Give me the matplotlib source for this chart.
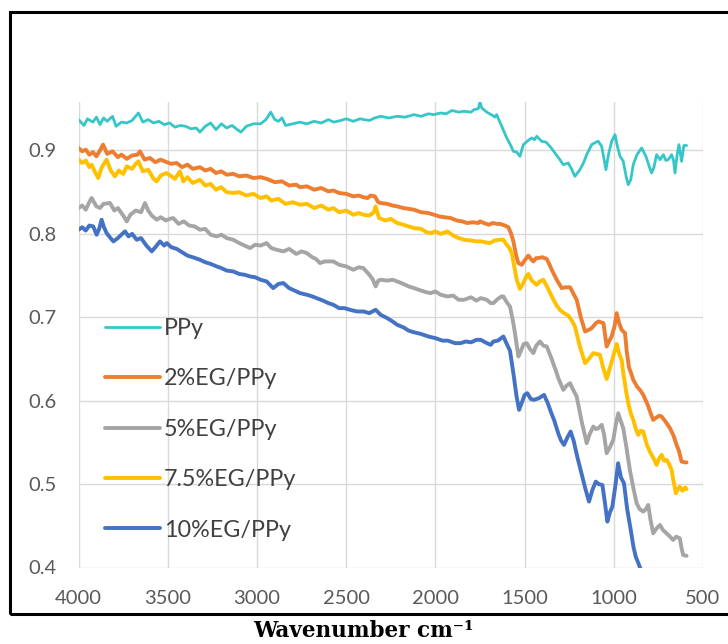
import matplotlib
matplotlib.use("Agg")
import matplotlib.pyplot as plt
from matplotlib.patches import Rectangle

# ---------------- data ----------------
wn_ppy = [4000, 3970, 3950, 3920, 3900, 3880, 3860, 3840, 3810, 3790, 3760, 3730, 3700, 3665, 3640,
          3610, 3580, 3550, 3520, 3490, 3460, 3430, 3400, 3370, 3340, 3320, 3290, 3260, 3230, 3200,
          3170, 3140, 3110, 3090, 3060, 3020, 2980, 2950, 2923, 2900, 2880, 2860, 2840, 2800, 2760,
          2720, 2680, 2640, 2600, 2570, 2530, 2500, 2460, 2423, 2400, 2370, 2340, 2307, 2260, 2215,
          2170, 2120, 2080, 2040, 2010, 1970, 1940, 1907, 1870, 1840, 1800, 1784, 1760, 1750, 1740,
          1712, 1680, 1666, 1657, 1628, 1600, 1580, 1563, 1544, 1526, 1507, 1480, 1460, 1445, 1432,
          1404, 1380, 1358, 1330, 1302, 1283, 1255, 1235, 1218, 1190, 1170, 1152, 1124, 1100, 1087,
          1068, 1044, 1030, 1012, 993, 980, 965, 947, 930, 919, 905, 891, 870, 844, 820,
          800, 788, 775, 760, 741, 722, 708, 695, 676, 665, 657, 645, 635, 620, 607, 592]
ppy = [0.937, 0.930, 0.938, 0.934, 0.940, 0.931, 0.939, 0.935, 0.941, 0.929, 0.934, 0.933, 0.936, 0.945, 0.934,
       0.937, 0.933, 0.935, 0.931, 0.933, 0.928, 0.930, 0.929, 0.926, 0.927, 0.922, 0.929, 0.933, 0.925, 0.932,
       0.927, 0.930, 0.925, 0.922, 0.929, 0.932, 0.932, 0.937, 0.946, 0.937, 0.935, 0.939, 0.930, 0.932, 0.934,
       0.932, 0.935, 0.933, 0.937, 0.934, 0.936, 0.938, 0.935, 0.938, 0.937, 0.936, 0.939, 0.941, 0.939, 0.941,
       0.940, 0.943, 0.941, 0.944, 0.943, 0.945, 0.944, 0.948, 0.946, 0.947, 0.946, 0.949, 0.950, 0.958, 0.951,
       0.946, 0.942, 0.940, 0.943, 0.929, 0.915, 0.907, 0.899, 0.898, 0.893, 0.907, 0.912, 0.915, 0.913, 0.917,
       0.911, 0.910, 0.905, 0.897, 0.889, 0.883, 0.885, 0.877, 0.869, 0.877, 0.885, 0.895, 0.907, 0.910, 0.911,
       0.905, 0.877, 0.895, 0.911, 0.919, 0.905, 0.893, 0.887, 0.868, 0.859, 0.865, 0.883, 0.895, 0.903, 0.893,
       0.880, 0.873, 0.880, 0.895, 0.889, 0.895, 0.888, 0.889, 0.895, 0.888, 0.873, 0.895, 0.907, 0.887, 0.906, 0.906]

wn_eg2 = [4000, 3980, 3960, 3940, 3920, 3900, 3880, 3863, 3840, 3810, 3780, 3760, 3730, 3700, 3670,
          3656, 3630, 3600, 3570, 3540, 3506, 3480, 3450, 3420, 3390, 3360, 3320, 3290, 3260, 3230,
          3200, 3170, 3133, 3100, 3060, 3020, 2980, 2946, 2900, 2860, 2820, 2780, 2759, 2720, 2680,
          2640, 2600, 2572, 2540, 2500, 2460, 2430, 2404, 2380, 2363, 2340, 2320, 2307, 2270, 2240,
          2214, 2180, 2150, 2120, 2080, 2040, 2008, 1980, 1950, 1914, 1880, 1850, 1821, 1790, 1760,
          1750, 1728, 1700, 1680, 1653, 1638, 1610, 1591, 1575, 1563, 1545, 1535, 1516, 1500, 1479,
          1465, 1451, 1435, 1423, 1400, 1376, 1360, 1348, 1320, 1292, 1270, 1245, 1225, 1208, 1185,
          1161, 1140, 1124, 1100, 1087, 1058, 1040, 1025, 1012, 995, 984, 970, 956, 937, 928,
          915, 900, 891, 870, 850, 835, 810, 790, 779, 760, 745, 732, 710, 685, 665,
          648, 635, 620, 600, 592]
eg2 = [0.903, 0.899, 0.901, 0.895, 0.898, 0.893, 0.900, 0.907, 0.896, 0.899, 0.892, 0.895, 0.890, 0.894, 0.895,
       0.899, 0.889, 0.891, 0.886, 0.889, 0.886, 0.884, 0.885, 0.880, 0.883, 0.878, 0.880, 0.876, 0.878, 0.873,
       0.875, 0.871, 0.872, 0.869, 0.870, 0.867, 0.868, 0.866, 0.862, 0.863, 0.858, 0.859, 0.856, 0.857, 0.853,
       0.855, 0.851, 0.852, 0.849, 0.848, 0.845, 0.846, 0.844, 0.843, 0.846, 0.845, 0.838, 0.837, 0.836, 0.834,
       0.833, 0.831, 0.830, 0.829, 0.826, 0.825, 0.823, 0.821, 0.820, 0.819, 0.816, 0.815, 0.813, 0.814, 0.813,
       0.815, 0.813, 0.811, 0.813, 0.812, 0.812, 0.810, 0.808, 0.800, 0.791, 0.772, 0.765, 0.763, 0.768, 0.774,
       0.770, 0.767, 0.771, 0.771, 0.772, 0.770, 0.763, 0.757, 0.745, 0.735, 0.736, 0.736, 0.728, 0.721, 0.700,
       0.683, 0.685, 0.687, 0.693, 0.695, 0.693, 0.665, 0.672, 0.677, 0.690, 0.705, 0.693, 0.685, 0.681, 0.660,
       0.640, 0.631, 0.625, 0.617, 0.612, 0.607, 0.595, 0.583, 0.577, 0.580, 0.582, 0.581, 0.575, 0.567, 0.558,
       0.547, 0.540, 0.527, 0.526, 0.526]

wn_eg5 = [4000, 3980, 3960, 3940, 3927, 3900, 3880, 3860, 3824, 3800, 3780, 3750, 3730, 3710, 3680,
          3650, 3628, 3610, 3590, 3562, 3540, 3510, 3490, 3469, 3440, 3410, 3380, 3350, 3320, 3290,
          3260, 3226, 3200, 3170, 3133, 3100, 3070, 3039, 3010, 2980, 2946, 2920, 2890, 2852, 2820,
          2780, 2750, 2721, 2690, 2670, 2647, 2620, 2572, 2540, 2500, 2460, 2430, 2404, 2370, 2350,
          2335, 2320, 2307, 2270, 2240, 2214, 2180, 2150, 2120, 2080, 2050, 2026, 2000, 1970, 1933,
          1900, 1870, 1840, 1800, 1770, 1746, 1712, 1690, 1675, 1650, 1630, 1619, 1600, 1582, 1565,
          1554, 1535, 1520, 1505, 1488, 1470, 1451, 1435, 1414, 1395, 1376, 1350, 1320, 1311, 1283,
          1265, 1245, 1230, 1208, 1180, 1152, 1135, 1115, 1100, 1087, 1068, 1055, 1040, 1020, 1003,
          990, 975, 960, 947, 930, 910, 890, 872, 855, 835, 820, 807, 795, 779, 760,
          741, 725, 704, 685, 667, 650, 630, 620, 611, 592]
eg5 = [0.831, 0.834, 0.829, 0.838, 0.843, 0.833, 0.831, 0.836, 0.837, 0.828, 0.831, 0.822, 0.815, 0.823, 0.828,
       0.826, 0.837, 0.828, 0.822, 0.817, 0.820, 0.816, 0.818, 0.819, 0.812, 0.815, 0.810, 0.809, 0.805, 0.806,
       0.799, 0.797, 0.799, 0.795, 0.793, 0.789, 0.786, 0.783, 0.787, 0.786, 0.789, 0.783, 0.781, 0.779, 0.782,
       0.776, 0.779, 0.777, 0.772, 0.770, 0.765, 0.767, 0.767, 0.763, 0.761, 0.757, 0.760, 0.759, 0.751, 0.745,
       0.737, 0.744, 0.745, 0.744, 0.745, 0.743, 0.740, 0.737, 0.735, 0.732, 0.730, 0.729, 0.731, 0.727, 0.725,
       0.726, 0.721, 0.721, 0.724, 0.720, 0.723, 0.721, 0.717, 0.717, 0.722, 0.725, 0.725, 0.718, 0.713, 0.695,
       0.681, 0.653, 0.660, 0.668, 0.669, 0.662, 0.657, 0.666, 0.671, 0.666, 0.665, 0.651, 0.633, 0.627, 0.613,
       0.618, 0.621, 0.614, 0.605, 0.575, 0.549, 0.560, 0.569, 0.566, 0.567, 0.571, 0.560, 0.537, 0.545, 0.553,
       0.570, 0.585, 0.575, 0.567, 0.545, 0.517, 0.495, 0.477, 0.470, 0.467, 0.470, 0.475, 0.458, 0.441, 0.447,
       0.451, 0.445, 0.441, 0.437, 0.433, 0.437, 0.435, 0.423, 0.415, 0.414]

wn_eg75 = [4000, 3980, 3960, 3940, 3927, 3910, 3890, 3870, 3843, 3820, 3796, 3775, 3750, 3730, 3700,
           3680, 3665, 3640, 3610, 3580, 3562, 3540, 3506, 3480, 3460, 3432, 3413, 3390, 3360, 3320,
           3290, 3260, 3230, 3200, 3170, 3133, 3100, 3060, 3020, 2980, 2946, 2920, 2880, 2840, 2800,
           2759, 2720, 2680, 2640, 2600, 2572, 2540, 2500, 2460, 2430, 2404, 2370, 2345, 2335, 2316,
           2280, 2250, 2214, 2180, 2150, 2120, 2080, 2050, 2026, 2000, 1970, 1933, 1900, 1870, 1840,
           1800, 1770, 1746, 1720, 1694, 1670, 1640, 1619, 1600, 1585, 1572, 1555, 1544, 1526, 1510,
           1490, 1479, 1460, 1432, 1415, 1395, 1370, 1348, 1320, 1302, 1280, 1255, 1235, 1218, 1190,
           1161, 1140, 1115, 1095, 1078, 1060, 1040, 1025, 1010, 995, 984, 970, 956, 947, 930,
           919, 905, 891, 875, 863, 850, 835, 815, 798, 775, 760, 745, 732, 718, 704,
           690, 676, 665, 652, 640, 630, 615, 600, 592]
eg75 = [0.889, 0.885, 0.888, 0.880, 0.883, 0.875, 0.867, 0.880, 0.889, 0.876, 0.869, 0.876, 0.872, 0.881, 0.878,
        0.884, 0.887, 0.875, 0.877, 0.866, 0.863, 0.870, 0.873, 0.869, 0.866, 0.875, 0.863, 0.868, 0.861, 0.865,
        0.858, 0.860, 0.853, 0.856, 0.850, 0.849, 0.850, 0.846, 0.848, 0.843, 0.845, 0.840, 0.842, 0.836, 0.838,
        0.835, 0.836, 0.831, 0.834, 0.829, 0.831, 0.826, 0.828, 0.823, 0.825, 0.823, 0.822, 0.826, 0.833, 0.819,
        0.816, 0.818, 0.813, 0.811, 0.809, 0.807, 0.806, 0.802, 0.801, 0.803, 0.800, 0.803, 0.798, 0.795, 0.793,
        0.792, 0.791, 0.791, 0.790, 0.789, 0.792, 0.793, 0.793, 0.787, 0.783, 0.777, 0.758, 0.745, 0.734, 0.740,
        0.749, 0.752, 0.744, 0.739, 0.743, 0.745, 0.735, 0.725, 0.714, 0.709, 0.705, 0.702, 0.696, 0.689, 0.665,
        0.645, 0.650, 0.657, 0.656, 0.655, 0.640, 0.626, 0.637, 0.648, 0.660, 0.668, 0.656, 0.649, 0.633, 0.610,
        0.597, 0.585, 0.577, 0.565, 0.559, 0.564, 0.563, 0.547, 0.539, 0.530, 0.523, 0.531, 0.535, 0.528, 0.529,
        0.524, 0.517, 0.503, 0.489, 0.494, 0.497, 0.492, 0.496, 0.494]

wn_eg10 = [4000, 3980, 3960, 3940, 3918, 3899, 3885, 3871, 3858, 3843, 3825, 3805, 3780, 3760, 3740,
           3720, 3700, 3674, 3650, 3620, 3590, 3570, 3544, 3520, 3506, 3480, 3450, 3413, 3390, 3360,
           3320, 3290, 3260, 3226, 3200, 3170, 3133, 3100, 3070, 3039, 3010, 2980, 2946, 2909, 2880,
           2852, 2820, 2790, 2759, 2720, 2690, 2666, 2630, 2600, 2572, 2540, 2510, 2479, 2440, 2404,
           2370, 2335, 2307, 2270, 2240, 2214, 2180, 2150, 2120, 2080, 2040, 2000, 1960, 1930, 1890,
           1859, 1830, 1800, 1770, 1746, 1712, 1690, 1675, 1650, 1619, 1600, 1582, 1563, 1545, 1531,
           1515, 1500, 1485, 1465, 1447, 1420, 1391, 1370, 1350, 1335, 1310, 1295, 1279, 1260, 1242,
           1225, 1205, 1186, 1160, 1139, 1120, 1101, 1085, 1064, 1050, 1036, 1022, 1008, 990, 976,
           960, 943, 925, 905, 890, 877, 853, 830]
eg10 = [0.805, 0.808, 0.804, 0.810, 0.809, 0.799, 0.806, 0.817, 0.808, 0.801, 0.796, 0.791, 0.795, 0.799, 0.803,
        0.797, 0.800, 0.793, 0.795, 0.786, 0.779, 0.784, 0.791, 0.786, 0.789, 0.784, 0.782, 0.777, 0.774, 0.772,
        0.769, 0.766, 0.764, 0.761, 0.759, 0.756, 0.755, 0.752, 0.751, 0.749, 0.748, 0.745, 0.743, 0.735, 0.740,
        0.741, 0.735, 0.732, 0.729, 0.727, 0.725, 0.723, 0.720, 0.717, 0.715, 0.711, 0.711, 0.709, 0.707, 0.707,
        0.705, 0.709, 0.703, 0.699, 0.695, 0.691, 0.688, 0.684, 0.682, 0.680, 0.677, 0.675, 0.672, 0.672, 0.669,
        0.669, 0.671, 0.670, 0.673, 0.673, 0.669, 0.667, 0.671, 0.672, 0.677, 0.668, 0.660, 0.633, 0.605, 0.589,
        0.598, 0.607, 0.609, 0.602, 0.601, 0.603, 0.607, 0.597, 0.585, 0.577, 0.560, 0.552, 0.547, 0.556, 0.563,
        0.552, 0.533, 0.517, 0.495, 0.479, 0.493, 0.503, 0.500, 0.499, 0.478, 0.455, 0.466, 0.473, 0.500, 0.525,
        0.508, 0.501, 0.470, 0.445, 0.425, 0.413, 0.400, 0.385]

labels = ["PPy", "2%EG/PPy", "5%EG/PPy", "7.5%EG/PPy", "10%EG/PPy"]
colors = ["#36C6C8", "#ED7D31", "#A5A5A5", "#FFC000", "#4472C4"]
x_ticks = [4000, 3500, 3000, 2500, 2000, 1500, 1000, 500]
y_ticks = [0.4, 0.5, 0.6, 0.7, 0.8, 0.9]
x_title = "Wavenumber cm\u207b\u00b9"

# ---------------- figure ----------------
W, H = 728, 644
fig = plt.figure(figsize=(W / 100, H / 100), dpi=100)
fig.patch.set_facecolor("white")

# black outer frame (extends past the right edge)
fig.patches.append(Rectangle((10 / W, 30 / H), 1.2, (632 - 30) / H, transform=fig.transFigure,
                             fill=False, edgecolor="black", linewidth=2.2, zorder=0))

ax = fig.add_axes([78.6 / W, (H - 567.5) / H, (703 - 78.6) / W, (567.5 - 101.7) / H])

series = [(wn_ppy, ppy), (wn_eg2, eg2), (wn_eg5, eg5), (wn_eg75, eg75), (wn_eg10, eg10)]
widths = [2.0, 2.8, 2.8, 2.8, 2.8]
for (xs, ys), lab, col, lw in zip(series, labels, colors, widths):
    ax.plot(xs, ys, color=col, lw=lw, label=lab, solid_joinstyle="round", solid_capstyle="round")

ax.set_xlim(4000, 500)
ax.set_ylim(0.4, 0.9585)
ax.set_xticks(x_ticks)
ax.set_xticklabels([str(v) for v in x_ticks])
ax.set_yticks(y_ticks)
ax.set_yticklabels([f"{v:.1f}" for v in y_ticks])
ax.grid(True, color="#D9D9D9", lw=1.0)
ax.set_axisbelow(True)
for s in ax.spines.values():
    s.set_visible(False)
ax.tick_params(length=0, labelsize=14.5, labelcolor="#595959", pad=16)
for t in ax.get_xticklabels() + ax.get_yticklabels():
    t.set_fontfamily("Lato")

leg = ax.legend(loc="upper left", bbox_to_anchor=((105 - 78.6) / 624.4, (567.5 - 318) / 465.8),
                frameon=False, borderpad=0, borderaxespad=0, handlelength=2.35, handletextpad=0.18,
                labelspacing=1.26, prop={"family": "Lato", "size": 16.8})
for t in leg.get_texts():
    t.set_color("#404040")

fig.text(363.5 / W, (H - 631) / H, x_title, ha="center", va="center",
         fontsize=15.5, fontweight="bold", family=["DejaVu Serif"], color="black")

fig.savefig("out.png", dpi=100, facecolor="white")
